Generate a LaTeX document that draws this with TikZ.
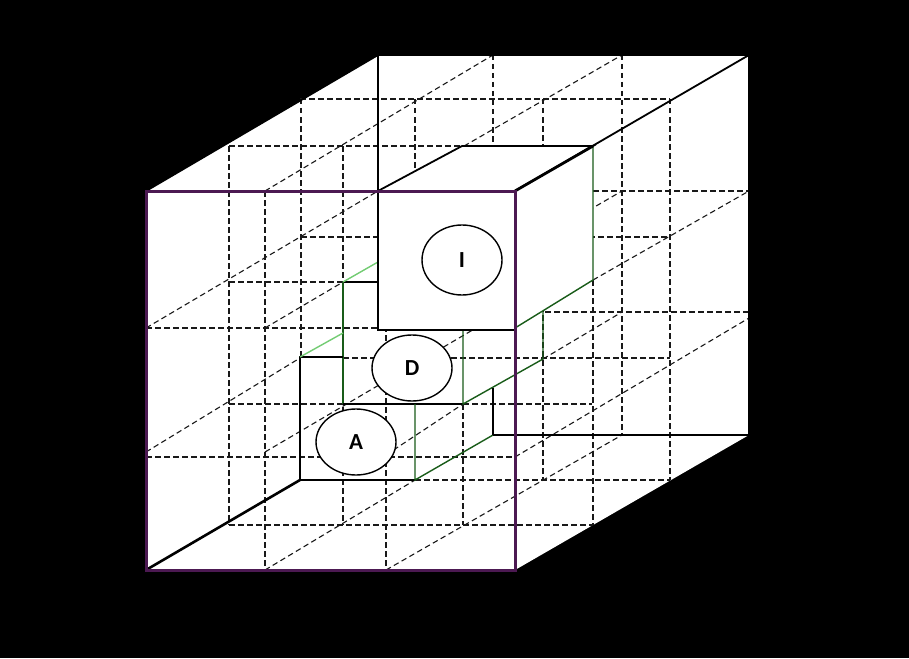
\documentclass[tikz,border=0pt]{standalone}
\usepackage{fontspec}
\setmainfont{Carlito}
\usetikzlibrary{shapes.geometric}
\definecolor{framepurple}{rgb}{0.30,0.10,0.32}
\definecolor{darkgreen}{rgb}{0.10,0.36,0.10}
\definecolor{lightgreen}{rgb}{0.45,0.80,0.45}

\begin{document}
\begin{tikzpicture}[
    x=1pt, y=-1pt,
    gridline/.style={dash pattern=on 5.5pt off 3.5pt, line width=1.1pt, black!90},
    outeredge/.style={line width=1.8pt, black},
    cellblack/.style={line width=1.8pt, black},
    cellgreen/.style={line width=1.4pt, darkgreen},
    celllight/.style={line width=1.4pt, lightgreen},
    frontface/.style={line width=3pt, framepurple},
    letter/.style={ellipse, draw, line width=1.4pt, fill=white, minimum width=80pt, minimum height=66pt, inner sep=0pt, font=\bfseries\fontsize{23}{26}\selectfont}
]
    \fill[black] (0,0) rectangle (909,658);
    \useasboundingbox (0,0) rectangle (909,658);

    % body of the big cube
    \fill[white] (146,191) -- (378,55) -- (749,55) -- (749,435) -- (515,570) -- (146,570) -- cycle;

    % dashed grid: rows, columns, depth lines
    \draw[gridline] (300,99) -- (670,99)  (229,146) -- (462,146)  (301,237) -- (670,237)
        (593,191) -- (749,191)  (229,282) -- (343,282)  (146,328) -- (378,328)
        (545,312) -- (749,312)  (343,358) -- (670,358)  (229,404) -- (592,404)
        (146,457) -- (515,457)  (415,480) -- (670,480)  (229,525) -- (593,525);
    \draw[gridline] (229,146) -- (229,525)  (265,191) -- (265,570)  (301,99) -- (301,357)
        (343,146) -- (343,525)  (386,191) -- (386,570)  (415,99) -- (415,191)
        (463,404) -- (463,525)  (493,55) -- (493,146)  (543,99) -- (543,480)
        (593,280) -- (593,525)  (622,55) -- (622,435)  (670,99) -- (670,480);
    \draw[gridline] (146,328) -- (378,191)  (146,452) -- (300,358)  (265,570) -- (415,480)
        (386,570) -- (622,435)  (265,452) -- (493,318)  (386,455) -- (463,404)
        (543,359) -- (622,312)  (515,457) -- (749,318)  (265,328) -- (343,282)
        (386,328) -- (622,191)  (593,280) -- (749,191)  (265,191) -- (493,55)
        (386,191) -- (622,55);

    % middle cell D
    \draw[cellgreen] (343,282) -- (343,404);
    \draw[cellblack] (343,282) -- (378,282);
    \draw[celllight] (343,282) -- (378,262);
    \draw[cellblack] (343,404) -- (463,404);
    \draw[cellgreen] (463,330) -- (463,404) -- (543,359) -- (543,312);

    % back cell A
    \draw[cellblack] (343,357) -- (300,357) -- (300,480) -- (415,480);
    \draw[celllight] (300,357) -- (343,333);
    \draw[cellgreen] (415,404) -- (415,480) -- (493,435);
    \draw[cellblack] (493,388) -- (493,435);

    \node[letter] (celld) at (412,368) {D};
    \node[letter] (cella) at (356,442) {A};

    % front cell I
    \filldraw[cellblack, fill=white] (378,191) -- (515,191) -- (515,330) -- (378,330) -- cycle;
    \filldraw[cellblack, fill=white] (378,191) -- (462,146) -- (593,146) -- (515,191) -- cycle;
    \fill[white] (515,191) -- (593,146) -- (593,280) -- (515,328) -- cycle;
    \draw[cellgreen] (593,146) -- (593,280) -- (515,328);
    \node[letter, minimum height=70pt] (celli) at (462,260) {I};

    % edges of the big cube
    \draw[outeredge] (146,191) -- (378,55) -- (749,55) -- (749,435) -- (493,435);
    \draw[outeredge] (378,55) -- (378,191);
    \draw[outeredge] (515,191) -- (749,55);
    \draw[outeredge, line width=2.8pt] (515,191) -- (593,146);
    \draw[outeredge, line width=2.6pt] (146,570) -- (300,480);
    \draw[frontface] (146,191) rectangle (515,570);
\end{tikzpicture}
\end{document}
